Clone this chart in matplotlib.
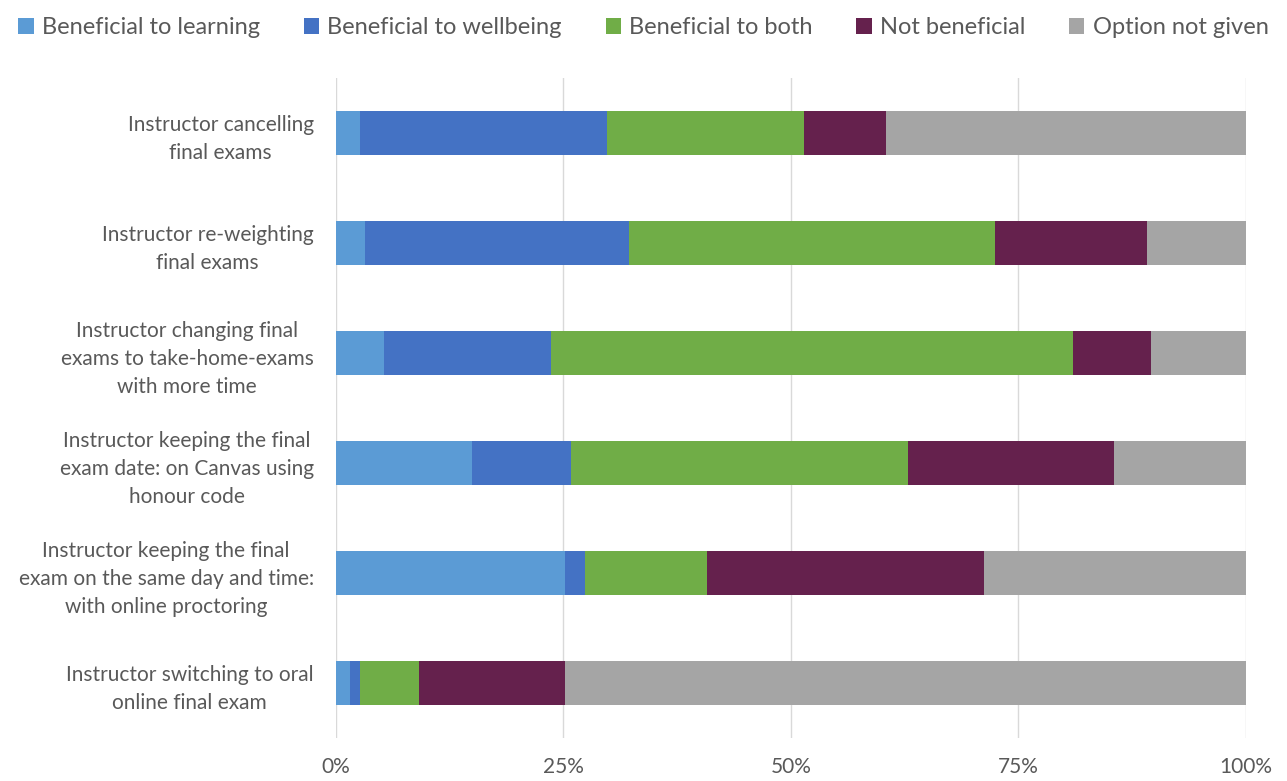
import numpy as np
import matplotlib.pyplot as plt

plt.rcParams['font.family'] = ['Lato', 'DejaVu Sans']

categories = [
    "Instructor cancelling\nfinal exams",
    "Instructor re-weighting\nfinal exams",
    "Instructor changing final\nexams to take-home-exams\nwith more time",
    "Instructor keeping the final\nexam date: on Canvas using\nhonour code",
    "Instructor keeping the final\nexam on the same day and time:\nwith online proctoring",
    "Instructor switching to oral\nonline final exam",
]

series_names = ["Beneficial to learning", "Beneficial to wellbeing",
                "Beneficial to both", "Not beneficial", "Option not given"]

# percentages
learning  = [2.6, 3.2, 5.3, 15.0, 25.2, 1.5]
wellbeing = [27.2, 29.0, 18.3, 10.8, 2.2, 1.2]
both      = [21.6, 40.2, 57.4, 37.1, 13.4, 6.4]
not_ben   = [9.1, 16.7, 8.6, 22.6, 30.4, 16.1]
not_given = [39.5, 10.9, 10.4, 14.5, 28.8, 74.8]

colors = ["#5B9BD5", "#4472C4", "#70AD47", "#65214D", "#A5A5A5"]

fig = plt.figure(figsize=(12.87, 7.81), dpi=100)
ax = fig.add_axes([0.261, 0.055, 0.707, 0.845])

y = np.arange(len(categories))
left = np.zeros(len(categories))
for name, vals, c in zip(series_names, [learning, wellbeing, both, not_ben, not_given], colors):
    ax.barh(y, vals, left=left, height=0.4, color=c, label=name, zorder=3)
    left += np.array(vals)

ax.set_ylim(len(categories) - 0.5, -0.5)
ax.set_xlim(0, 100)
ax.set_xticks([0, 25, 50, 75, 100])
ax.set_xticklabels(["0%", "25%", "50%", "75%", "100%"])
ax.set_yticks(y)
ax.set_yticklabels(categories, ha='right', multialignment='center', linespacing=1.5)
ax.tick_params(axis='y', length=0, pad=16, labelsize=15, labelcolor='#595959')
ax.tick_params(axis='x', length=0, pad=14, labelsize=15, labelcolor='#595959')
ax.grid(axis='x', color='#D9D9D9', lw=1, zorder=0)
for s in ax.spines.values():
    s.set_visible(False)

leg = fig.legend(loc='upper center', bbox_to_anchor=(0.5, 1.005), ncol=5, frameon=False,
                 fontsize=17, handlelength=0.65, handleheight=0.65, handletextpad=0.35,
                 columnspacing=1.85)
for t in leg.get_texts():
    t.set_color('#595959')

fig.savefig("out.png", dpi=100)
